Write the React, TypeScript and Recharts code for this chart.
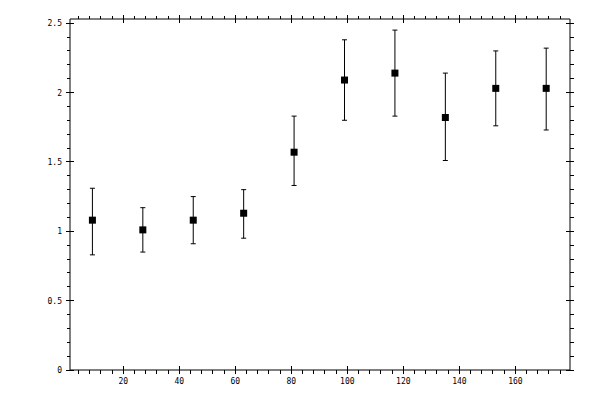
import React from 'react';
import { ScatterChart, Scatter, XAxis, YAxis, ErrorBar } from 'recharts';

// values
const xs = [9, 27, 45, 63, 81, 99, 117, 135, 153, 171];
const ys = [1.08, 1.01, 1.08, 1.13, 1.57, 2.09, 2.14, 1.82, 2.03, 2.03];
const upper = [1.31, 1.17, 1.25, 1.30, 1.83, 2.38, 2.45, 2.14, 2.30, 2.32];
const lower = [0.83, 0.85, 0.91, 0.95, 1.33, 1.80, 1.83, 1.51, 1.76, 1.73];

const xTicks = Array.from({ length: 44 }, (_, i) => (i + 1) * 4);
const xLabels = [20, 40, 60, 80, 100, 120, 140, 160];
const yTicks = Array.from({ length: 26 }, (_, i) => i / 10);
const yLabels = [0, 0.5, 1, 1.5, 2, 2.5];

const data = xs.map((x, i) => ({
  x,
  y: ys[i],
  err: [ys[i] - lower[i], upper[i] - ys[i]],
}));

const font = { fontFamily: 'DejaVu Sans Mono', fontSize: 8, fill: '#000' };

const isLabel = (v: number, list: number[]) => list.some((l) => Math.abs(l - v) < 1e-6);

// side = which edge of the frame; majors cross the line, minors point outward
const makeTick = (side: 'bottom' | 'top' | 'left' | 'right', labels: boolean) => (props: any) => {
  const { x, y, payload } = props;
  const v = payload.value;
  const major = isLabel(v, side === 'bottom' || side === 'top' ? xLabels : yLabels);
  const out = major ? 4 : 3.5;
  const inn = major ? 4 : 0;
  let line;
  if (side === 'bottom') line = <line x1={x} x2={x} y1={y - inn} y2={y + out} />;
  else if (side === 'top') line = <line x1={x} x2={x} y1={y + inn} y2={y - out} />;
  else if (side === 'left') line = <line x1={x + inn} x2={x - out} y1={y} y2={y} />;
  else line = <line x1={x - inn} x2={x + out} y1={y} y2={y} />;
  return (
    <g stroke="#000" strokeWidth={1} shapeRendering="crispEdges">
      {line}
      {labels && major && side === 'bottom' && (
        <text x={x} y={y + 14} textAnchor="middle" stroke="none" {...font}>
          {v}
        </text>
      )}
      {labels && major && side === 'left' && (
        <text x={x - 8} y={y + 3} textAnchor="end" stroke="none" {...font}>
          {v}
        </text>
      )}
    </g>
  );
};

const Square = (props: any) => {
  const { cx, cy } = props;
  return <rect x={cx - 3.5} y={cy - 3.5} width={7} height={7} fill="#000" />;
};

const Nothing = () => <g />;

export default function App() {
  return (
    <div style={{ position: 'absolute', left: 0, top: 0, width: 600, height: 400, background: '#fff' }}>
      <ScatterChart width={600} height={400} margin={{ top: 18, right: 29, left: 0, bottom: 0 }}>
        <XAxis
          type="number"
          dataKey="x"
          domain={[1, 179.5]}
          ticks={xTicks}
          interval={0}
          allowDataOverflow
          height={30}
          tickSize={0}
          tickMargin={0}
          tickLine={false}
          axisLine={{ stroke: '#000' }}
          tick={makeTick('bottom', true)}
        />
        <XAxis
          xAxisId="top"
          orientation="top"
          type="number"
          dataKey="x"
          domain={[1, 179.5]}
          ticks={xTicks}
          interval={0}
          allowDataOverflow
          height={1}
          tickSize={0}
          tickMargin={0}
          tickLine={false}
          axisLine={{ stroke: '#000' }}
          tick={makeTick('top', false)}
        />
        <YAxis
          type="number"
          dataKey="y"
          domain={[0, 2.53]}
          ticks={yTicks}
          interval={0}
          allowDataOverflow
          width={70}
          tickSize={0}
          tickMargin={0}
          tickLine={false}
          axisLine={{ stroke: '#000' }}
          tick={makeTick('left', true)}
        />
        <YAxis
          yAxisId="right"
          orientation="right"
          type="number"
          dataKey="y"
          domain={[0, 2.53]}
          ticks={yTicks}
          interval={0}
          allowDataOverflow
          width={1}
          tickSize={0}
          tickMargin={0}
          tickLine={false}
          axisLine={{ stroke: '#000' }}
          tick={makeTick('right', false)}
        />
        <Scatter data={data} shape={<Square />} isAnimationActive={false}>
          <ErrorBar dataKey="err" direction="y" width={2.5} stroke="#000" strokeWidth={1} />
        </Scatter>
        {/* invisible series so the mirrored top/right axes get drawn */}
        <Scatter data={data} xAxisId="top" yAxisId="right" shape={<Nothing />} isAnimationActive={false} />
      </ScatterChart>
    </div>
  );
}
